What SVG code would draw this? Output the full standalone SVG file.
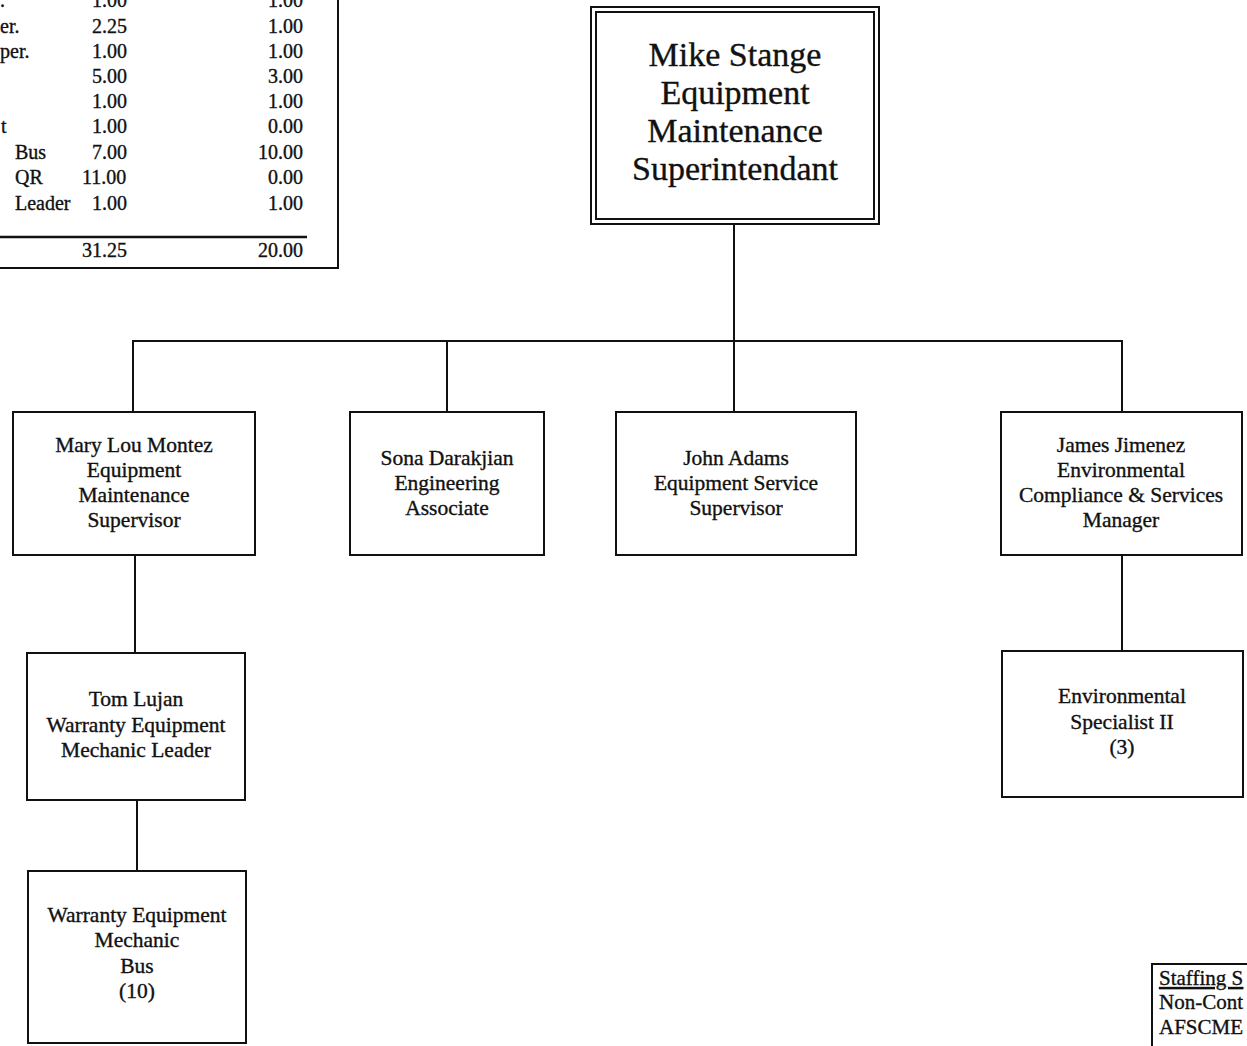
<svg xmlns="http://www.w3.org/2000/svg" width="1247" height="1046" viewBox="0 0 1247 1046">
<style>
text{font-family:"Liberation Serif","DejaVu Serif",serif;fill:#111;stroke:#111;stroke-width:0.35}
.box{fill:#fff;stroke:#111;stroke-width:2}
.n{font-size:21.5px;text-anchor:middle}
.m{font-size:34px;text-anchor:middle}
.t{font-size:20px}
.s{font-size:21px}
.r{text-anchor:end}
.conn{fill:none;stroke:#111;stroke-width:2}
</style>
<rect width="1247" height="1046" fill="#fff"/>

<g id="staffing-table-top">
<path class="conn" d="M338,0 V268 H0"/>
<line x1="0" y1="237" x2="307" y2="237" stroke="#111" stroke-width="2.5"/>
<text class="t" x="0" y="7">.</text><text class="t" x="92" y="7">1.00</text><text class="t r" x="303" y="7">1.00</text>
<text class="t" x="0" y="33">er.</text><text class="t" x="92" y="33">2.25</text><text class="t r" x="303" y="33">1.00</text>
<text class="t" x="0" y="58">per.</text><text class="t" x="92" y="58">1.00</text><text class="t r" x="303" y="58">1.00</text>
<text class="t" x="92" y="83">5.00</text><text class="t r" x="303" y="83">3.00</text>
<text class="t" x="92" y="108">1.00</text><text class="t r" x="303" y="108">1.00</text>
<text class="t" x="1" y="133">t</text><text class="t" x="92" y="133">1.00</text><text class="t r" x="303" y="133">0.00</text>
<text class="t" x="15" y="159">Bus</text><text class="t" x="92" y="159">7.00</text><text class="t r" x="303" y="159">10.00</text>
<text class="t" x="15" y="184">QR</text><text class="t" x="82" y="184">11.00</text><text class="t r" x="303" y="184">0.00</text>
<text class="t" x="15" y="210">Leader</text><text class="t" x="92" y="210">1.00</text><text class="t r" x="303" y="210">1.00</text>
<text class="t" x="82" y="257">31.25</text><text class="t r" x="303" y="257">20.00</text>
</g>

<g id="connectors">
<path class="conn" d="M734,224 V341"/>
<path class="conn" d="M133,412 V341 H1122 V412"/>
<path class="conn" d="M447,341 V412"/>
<path class="conn" d="M734,341 V412"/>
<path class="conn" d="M135,555 V653"/>
<path class="conn" d="M137,800 V871"/>
<path class="conn" d="M1122,555 V651"/>
</g>

<g id="mike-stange">
<rect class="box" x="591" y="7" width="288" height="217"/>
<rect class="box" x="596" y="12" width="278" height="207"/>
<text class="m" x="735" y="66">Mike Stange</text>
<text class="m" x="735" y="104">Equipment</text>
<text class="m" x="735" y="142">Maintenance</text>
<text class="m" x="735" y="180">Superintendant</text>
</g>

<g id="mary-lou-montez">
<rect class="box" x="13" y="412" width="242" height="143"/>
<text class="n" x="134" y="452">Mary Lou Montez</text>
<text class="n" x="134" y="477">Equipment</text>
<text class="n" x="134" y="502">Maintenance</text>
<text class="n" x="134" y="527">Supervisor</text>
</g>

<g id="sona-darakjian">
<rect class="box" x="350" y="412" width="194" height="143"/>
<text class="n" x="447" y="465">Sona Darakjian</text>
<text class="n" x="447" y="490">Engineering</text>
<text class="n" x="447" y="515">Associate</text>
</g>

<g id="john-adams">
<rect class="box" x="616" y="412" width="240" height="143"/>
<text class="n" x="736" y="465">John Adams</text>
<text class="n" x="736" y="490">Equipment Service</text>
<text class="n" x="736" y="515">Supervisor</text>
</g>

<g id="james-jimenez">
<rect class="box" x="1001" y="412" width="241" height="143"/>
<text class="n" x="1121" y="452">James Jimenez</text>
<text class="n" x="1121" y="477">Environmental</text>
<text class="n" x="1121" y="502">Compliance &amp; Services</text>
<text class="n" x="1121" y="527">Manager</text>
</g>

<g id="tom-lujan">
<rect class="box" x="27" y="653" width="218" height="147"/>
<text class="n" x="136" y="706">Tom Lujan</text>
<text class="n" x="136" y="732">Warranty Equipment</text>
<text class="n" x="136" y="757">Mechanic Leader</text>
</g>

<g id="warranty-mechanic-bus">
<rect class="box" x="28" y="871" width="218" height="172"/>
<text class="n" x="137" y="922">Warranty Equipment</text>
<text class="n" x="137" y="947">Mechanic</text>
<text class="n" x="137" y="973">Bus</text>
<text class="n" x="137" y="998">(10)</text>
</g>

<g id="environmental-specialist">
<rect class="box" x="1002" y="651" width="241" height="146"/>
<text class="n" x="1122" y="703">Environmental</text>
<text class="n" x="1122" y="729">Specialist II</text>
<text class="n" x="1122" y="754">(3)</text>
</g>

<g id="staffing-summary">
<path class="conn" d="M1152,1046 V964 H1247"/>
<text class="s" x="1159" y="985" text-decoration="underline">Staffing S</text>
<text class="s" x="1159" y="1009">Non-Cont</text>
<text class="s" x="1159" y="1034">AFSCME</text>
</g>
</svg>
